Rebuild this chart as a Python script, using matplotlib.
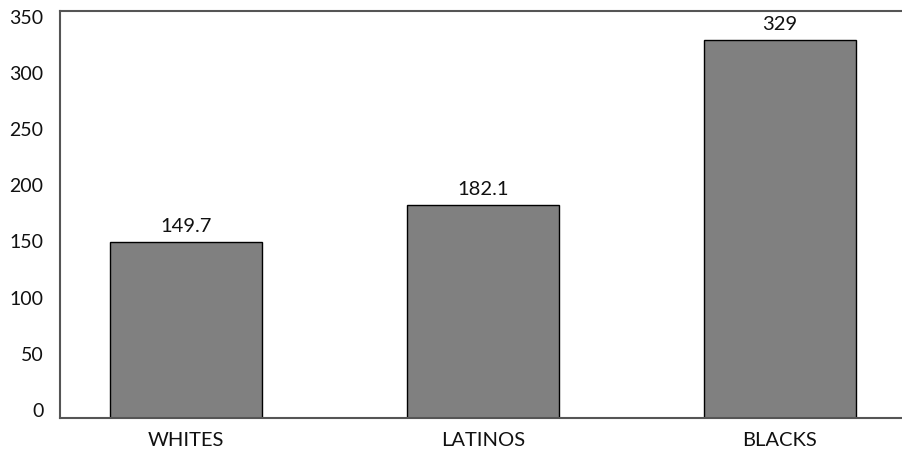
import matplotlib.pyplot as plt
import numpy as np

groups = ['WHITES', 'LATINOS', 'BLACKS']
values = [149.7, 182.1, 329]
value_labels = ['149.7', '182.1', '329']
yticks = [0, 50, 100, 150, 200, 250, 300, 350]

plt.rcParams['font.family'] = ['Lato', 'DejaVu Sans']

fig = plt.figure(figsize=(9.03, 4.49), dpi=100)
ax = fig.add_axes([0.0664, 0.069, 0.9336, 0.9065])

ymin, ymax = -7, 355
x = np.arange(len(groups))
heights = [v - ymin for v in values]
rects = ax.bar(x, heights, 0.51, bottom=ymin, color='#808080',
               edgecolor='black', linewidth=1.0)

for rect, lab in zip(rects, value_labels):
    top = rect.get_y() + rect.get_height()
    ax.annotate(lab, xy=(rect.get_x() + rect.get_width() / 2, top),
                xytext=(0, 5), textcoords='offset points',
                ha='center', va='bottom', fontsize=14.5, color='#111111')

ax.set_xlim(-0.425, 2.415)
ax.set_ylim(ymin, ymax)
ax.set_yticks(yticks)
ax.set_yticklabels([str(t) for t in yticks])
ax.set_xticks(x)
ax.set_xticklabels(groups)
ax.tick_params(axis='both', length=0, labelsize=14, colors='#111111')
ax.tick_params(axis='x', labelsize=14.5)
ax.tick_params(axis='y', pad=12)
ax.tick_params(axis='x', pad=10)

for side in ['left', 'bottom', 'top']:
    ax.spines[side].set_color('#555555')
    ax.spines[side].set_linewidth(1.5)
ax.spines['right'].set_visible(False)

plt.savefig('out.png', dpi=100)
